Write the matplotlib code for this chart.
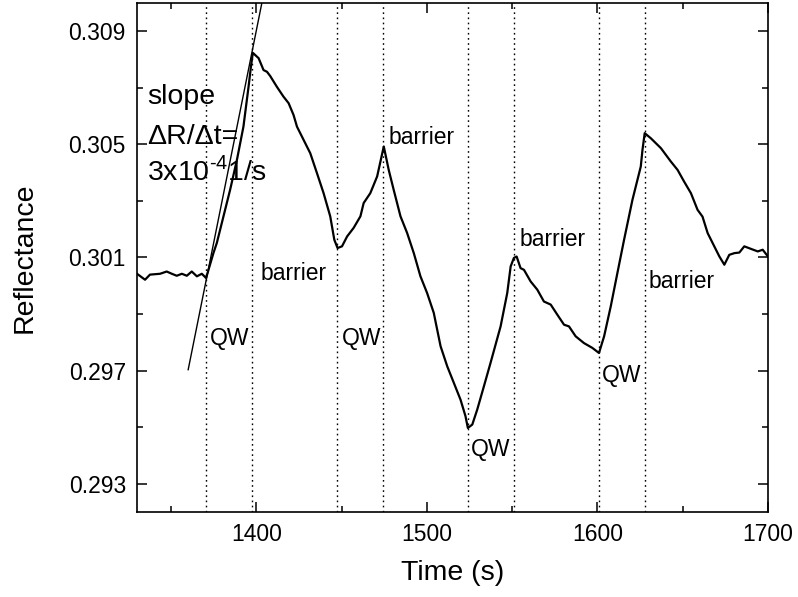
import numpy as np
import matplotlib
matplotlib.use("Agg")
import matplotlib.pyplot as plt
from matplotlib.ticker import FixedLocator, MultipleLocator, FormatStrFormatter

plt.rcParams['font.family'] = ['Liberation Sans', 'DejaVu Sans']
plt.rcParams['mathtext.fontset'] = 'custom'
plt.rcParams['mathtext.rm'] = 'Liberation Sans'

# reflectance trace
time_s = [1330.0, 1334.7, 1337.6, 1343.5, 1347.4, 1350.4, 1353.3, 1356.3, 1359.2,
          1362.1, 1365.1, 1368.0, 1370.5, 1374.8, 1376.8, 1380.7, 1384.6, 1388.6,
          1392.4, 1395.4, 1396.8, 1397.9, 1401.3, 1404.2, 1406.2, 1408.1, 1412.0,
          1415.9, 1418.9, 1421.8, 1423.8, 1427.7, 1431.6, 1435.5, 1439.4, 1443.3,
          1445.7, 1447.6, 1450.2, 1453.2, 1457.0, 1461.0, 1462.9, 1466.8, 1470.8,
          1474.7, 1477.6, 1480.5, 1484.5, 1488.4, 1492.3, 1496.2, 1500.1, 1504.0,
          1508.0, 1511.9, 1515.8, 1519.7, 1522.6, 1524.0, 1526.6, 1529.5, 1533.4,
          1537.3, 1543.2, 1547.1, 1549.1, 1551.0, 1552.6, 1554.9, 1556.9, 1560.8,
          1564.7, 1568.6, 1572.6, 1576.5, 1580.4, 1583.3, 1587.2, 1592.1, 1597.0,
          1600.9, 1603.9, 1607.8, 1611.7, 1615.6, 1620.5, 1625.4, 1626.4, 1627.7,
          1631.3, 1637.2, 1643.0, 1647.0, 1650.8, 1654.8, 1658.7, 1661.6, 1664.6,
          1668.5, 1671.5, 1674.4, 1677.3, 1680.3, 1683.2, 1686.1, 1690.0, 1694.0,
          1696.9, 1700.0]
reflectance = [0.30042, 0.30021, 0.30039, 0.30042, 0.30050, 0.30042, 0.30035, 0.30042, 0.30035,
               0.30050, 0.30033, 0.30042, 0.30027, 0.30115, 0.30151, 0.30245, 0.30339, 0.30445,
               0.30562, 0.30703, 0.30774, 0.30823, 0.30804, 0.30762, 0.30756, 0.30741, 0.30703,
               0.30668, 0.30645, 0.30603, 0.30562, 0.30515, 0.30468, 0.30398, 0.30327, 0.30245,
               0.30162, 0.30133, 0.30139, 0.30174, 0.30204, 0.30245, 0.30292, 0.30327, 0.30386,
               0.30492, 0.30409, 0.30339, 0.30245, 0.30186, 0.30115, 0.30033, 0.29974, 0.29904,
               0.29786, 0.29715, 0.29656, 0.29597, 0.29539, 0.29497, 0.29509, 0.29562, 0.29644,
               0.29727, 0.29856, 0.29974, 0.30068, 0.30098, 0.30103, 0.30062, 0.30056, 0.30015,
               0.29986, 0.29944, 0.29933, 0.29897, 0.29862, 0.29856, 0.29821, 0.29797, 0.29780,
               0.29762, 0.29821, 0.29927, 0.30045, 0.30162, 0.30303, 0.30421, 0.30480, 0.30539,
               0.30521, 0.30486, 0.30439, 0.30409, 0.30368, 0.30327, 0.30268, 0.30244, 0.30186,
               0.30139, 0.30103, 0.30074, 0.30109, 0.30115, 0.30117, 0.30139, 0.30130, 0.30121,
               0.30127, 0.30103]

# fitted slope line (3e-4 1/s)
slope_t = [1360.0, 1404.0]
slope_r = [0.29703, 0.31023]

# layer boundaries (dotted)
boundaries = [1370.5, 1397.5, 1447.5, 1474.5, 1524.0, 1551.0, 1601.0, 1628.0]

# labels: text, x, y
labels_text = ["barrier", "barrier", "barrier", "barrier", "QW", "QW", "QW", "QW"]
labels_x = [1402.6, 1477.6, 1554.5, 1629.7, 1372.5, 1450.2, 1525.6, 1602.3]
labels_y = [0.30042, 0.30525, 0.30162, 0.30013, 0.29812, 0.29812, 0.29421, 0.29682]

fig = plt.figure(figsize=(7.98, 5.97), dpi=100)
ax = fig.add_axes([0.1717, 0.1424, 0.7907, 0.853])

for b in boundaries:
    ax.axvline(b, color='black', linestyle=(0, (1.2, 2.5)), linewidth=1.0)

ax.plot(time_s, reflectance, color='black', linewidth=1.6)
ax.plot(slope_t, slope_r, color='black', linewidth=1.0)

for txt, x, y in zip(labels_text, labels_x, labels_y):
    ax.text(x, y, txt, fontsize=16.5, ha='left', va='center')

ax.text(1335.9, 0.30668, "slope", fontsize=20.5, ha='left', va='center')
ax.text(1335.9, 0.30524, "\u0394R/\u0394t=", fontsize=20.5, ha='left', va='center')
ax.text(1335.9, 0.30404, r"3x10$^{\text{-4}}$1/s", fontsize=20.5, ha='left', va='center')

ax.set_xlim(1330, 1700)
ax.set_ylim(0.292, 0.310)

ax.xaxis.set_major_locator(FixedLocator([1400, 1500, 1600, 1700]))
ax.xaxis.set_minor_locator(MultipleLocator(50))
ax.yaxis.set_major_locator(FixedLocator([0.293, 0.297, 0.301, 0.305, 0.309]))
ax.yaxis.set_minor_locator(FixedLocator([0.295, 0.299, 0.303, 0.307]))
ax.yaxis.set_major_formatter(FormatStrFormatter('%.3f'))

ax.tick_params(which='both', direction='in', top=True, right=True, width=1.1)
ax.tick_params(which='major', length=7, labelsize=16.5, pad=8)
ax.tick_params(which='minor', length=4)
for s in ax.spines.values():
    s.set_linewidth(1.2)

ax.set_xlabel("Time (s)", fontsize=20.5, labelpad=10)
ax.set_ylabel("Reflectance", fontsize=20.5, labelpad=22)

fig.savefig("out.png", dpi=100)
